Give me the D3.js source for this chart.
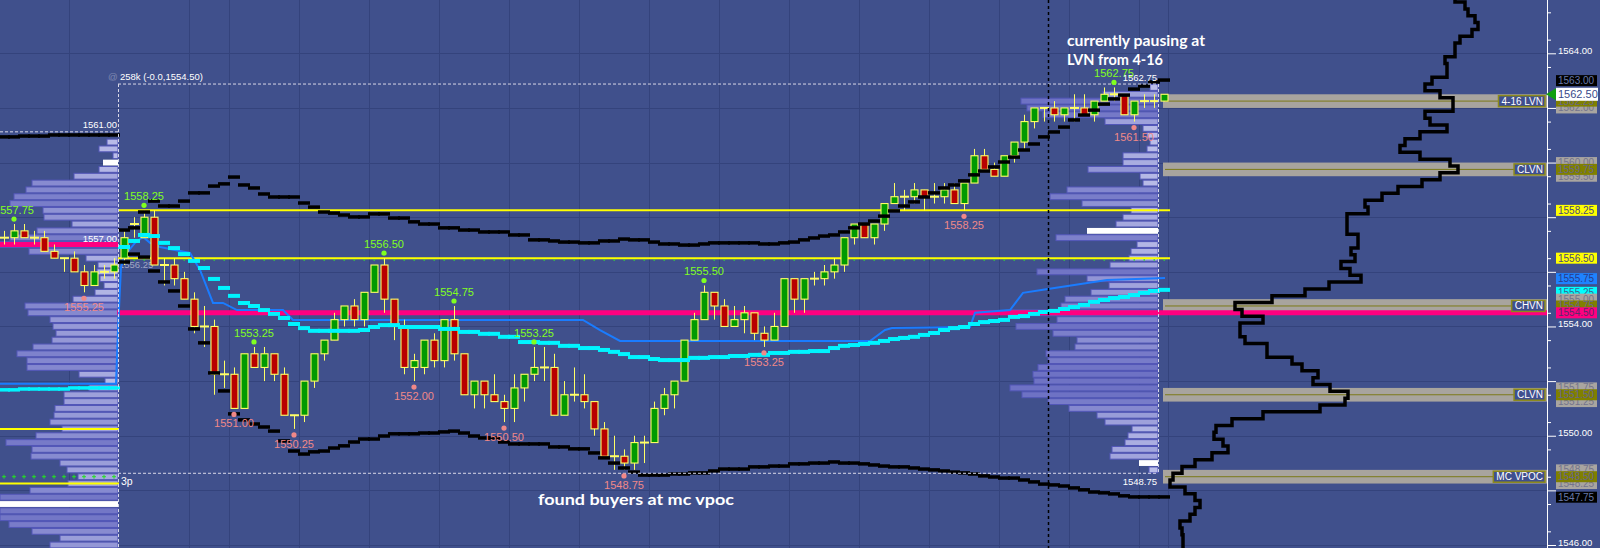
<!DOCTYPE html>
<html><head><meta charset="utf-8">
<script src="https://cdn.jsdelivr.net/npm/d3@7/dist/d3.min.js"></script>
<style>
html,body{margin:0;padding:0;background:#40508c;overflow:hidden}
svg{display:block}
</style></head><body>
<svg id="chart" width="1600" height="548"></svg>
<script>
// ================= DATA =================
const opens=[1557.25,1557.25,1557.5,1557.25,1557.25,1556.75,1556.5,1556.5,1556.0,1555.5,1556.0,1556.0,
1556.5,1557.75,1557.25,1558.0,1556.25,1556.25,1555.75,1555.0,1554.0,1554.0,1552.25,1552.25,
1551.0,1553.0,1552.5,1553.0,1552.25,1550.75,1550.75,1552.0,1553.0,1553.5,1554.25,1554.75,
1554.25,1555.25,1556.25,1555.0,1554.0,1552.5,1552.5,1553.5,1552.75,1554.25,1553.0,1551.5,
1552.0,1551.5,1551.25,1551.0,1551.75,1552.25,1552.5,1552.5,1550.75,1551.5,1551.5,1551.25,
1550.25,1549.25,1549.25,1549.0,1549.75,1549.75,1551.0,1551.5,1552.0,1553.5,1554.25,1555.25,
1554.75,1554.0,1554.25,1554.5,1553.75,1553.5,1554.0,1555.75,1555.0,1555.75,1555.75,1556.0,
1556.25,1557.25,1557.75,1557.25,1557.75,1558.5,1558.75,1558.75,1559.0,1558.75,1558.75,1559.0,
1558.5,1559.25,1560.25,1559.75,1559.5,1560.25,1560.75,1561.5,1562.0,1562.0,1561.75,1562.0,
1562.0,1561.75,1562.25,1562.5,1562.5,1561.75,1562.25,1562.25,1562.25];
const closes=[1557.25,1557.5,1557.25,1557.25,1556.75,1556.5,1556.5,1556.0,1555.5,1556.0,1556.0,1556.25,
1557.25,1557.75,1558.0,1556.25,1556.25,1555.75,1555.0,1554.0,1554.0,1552.25,1552.25,1551.0,
1553.0,1552.5,1553.0,1552.25,1550.75,1550.75,1552.0,1553.0,1553.5,1554.25,1554.75,1554.25,
1555.25,1556.25,1555.0,1554.0,1552.5,1552.75,1553.5,1552.75,1554.25,1553.0,1551.5,1552.0,
1551.5,1551.25,1551.0,1551.75,1552.25,1552.5,1552.5,1550.75,1551.5,1551.5,1551.25,1550.25,
1549.25,1549.25,1549.0,1549.75,1549.75,1551.0,1551.5,1552.0,1553.5,1554.25,1555.25,1554.75,
1554.0,1554.25,1554.5,1553.75,1553.5,1554.0,1555.75,1555.0,1555.75,1555.75,1556.0,1556.25,
1557.25,1557.75,1557.25,1557.75,1558.5,1558.75,1558.75,1559.0,1558.75,1558.75,1559.0,1558.5,
1559.25,1560.25,1559.75,1559.5,1560.25,1560.75,1561.5,1562.0,1562.0,1561.75,1562.0,1562.0,
1561.75,1562.25,1562.5,1562.5,1561.75,1562.25,1562.25,1562.25,1562.5];
const highs=[1557.5,1557.75,1557.75,1557.5,1557.5,1557.0,1556.5,1556.75,1556.25,1556.25,1556.25,1556.5,
1557.5,1558.0,1558.25,1558.25,1556.5,1556.5,1556.0,1555.25,1554.75,1554.25,1552.75,1552.5,
1553.0,1553.25,1553.25,1553.0,1552.5,1550.75,1552.0,1553.0,1553.5,1554.5,1554.75,1555.0,
1555.25,1556.25,1556.5,1555.0,1554.25,1553.0,1553.5,1553.75,1554.25,1554.75,1553.0,1552.0,
1552.0,1552.25,1551.5,1552.25,1552.25,1553.25,1553.25,1553.0,1552.0,1552.5,1552.25,1551.25,
1550.5,1550.0,1549.5,1550.0,1550.0,1551.25,1551.75,1552.0,1553.5,1554.5,1555.5,1555.25,
1555.0,1554.75,1554.75,1554.5,1554.0,1554.5,1555.75,1555.75,1555.75,1556.0,1556.25,1556.5,
1557.25,1557.75,1557.75,1557.75,1558.5,1559.25,1559.0,1559.25,1559.0,1559.25,1559.25,1559.25,
1559.25,1560.5,1560.5,1560.0,1560.25,1560.75,1561.75,1562.0,1562.0,1562.25,1562.0,1562.5,
1562.5,1562.25,1562.75,1562.75,1562.5,1562.25,1562.5,1562.5,1562.5];
const lows=[1557.0,1557.0,1557.25,1557.0,1556.75,1556.5,1556.0,1556.0,1555.25,1555.5,1555.75,1555.75,
1556.25,1557.25,1557.25,1556.25,1555.5,1555.5,1555.0,1553.75,1553.25,1551.5,1551.75,1551.0,
1551.0,1552.5,1552.0,1552.0,1550.75,1550.25,1550.5,1551.75,1552.75,1553.5,1554.0,1554.0,
1554.0,1555.25,1554.5,1553.5,1552.25,1552.0,1552.25,1552.5,1552.5,1552.75,1551.5,1551.0,
1551.0,1551.25,1550.5,1550.5,1551.25,1552.0,1552.0,1550.75,1550.75,1551.25,1551.0,1550.0,
1549.25,1548.75,1548.75,1548.75,1549.0,1549.75,1550.75,1551.0,1552.0,1553.5,1554.25,1554.25,
1554.0,1554.0,1553.75,1553.5,1553.25,1553.5,1554.0,1554.5,1554.5,1555.5,1555.5,1555.75,
1556.0,1557.0,1557.25,1557.0,1557.5,1558.5,1558.25,1558.5,1558.25,1558.5,1558.5,1558.5,
1558.25,1559.25,1559.75,1559.5,1559.5,1560.0,1560.5,1561.25,1561.5,1561.5,1561.5,1561.5,
1561.75,1561.5,1562.25,1562.25,1561.75,1561.5,1562.0,1562.0,1562.25];
const sessionStart=12;
const upperBand=[1557.53,1557.61,1558.19,1558.59,1558.41,1558.41,1558.59,1558.89,1558.89,1559.14,
1559.22,1559.47,1559.18,1559.07,1558.85,1558.74,1558.74,1558.74,1558.52,1558.37,
1558.19,1558.15,1558.08,1558.01,1558.01,1558.12,1558.12,1557.97,1557.97,1557.83,
1557.75,1557.75,1557.61,1557.61,1557.53,1557.53,1557.46,1557.46,1557.46,1557.35,
1557.35,1557.17,1557.17,1557.13,1557.09,1557.09,1557.06,1557.06,1557.13,1557.13,
1557.20,1557.17,1557.17,1557.09,1557.02,1557.02,1556.98,1556.98,1557.02,1557.06,
1557.06,1557.06,1557.06,1557.06,1557.02,1557.02,1557.06,1557.09,1557.17,1557.24,
1557.31,1557.35,1557.46,1557.61,1557.75,1557.86,1558.04,1558.23,1558.41,1558.56,
1558.74,1558.89,1559.07,1559.18,1559.33,1559.55,1559.69,1559.84,1560.02,1560.20,
1560.46,1560.68,1560.94,1561.12,1561.30,1561.56,1561.74,1561.92,1562.14,1562.33,
1562.47,1562.69,1562.80,1562.95,1563.02];
const lowerBand=[1556.36,1556.65,1556.54,1556.03,1555.63,1555.30,1554.75,1553.91,1553.40,1552.30,
1551.64,1550.80,1550.58,1550.43,1550.32,1550.17,1549.81,1549.44,1549.33,1549.41,
1549.44,1549.55,1549.63,1549.77,1549.88,1549.88,1549.99,1550.07,1550.07,1550.07,
1550.10,1550.10,1550.14,1550.17,1550.10,1549.99,1549.92,1549.92,1549.77,1549.70,
1549.70,1549.70,1549.70,1549.59,1549.59,1549.52,1549.52,1549.37,1549.19,1549.00,
1548.82,1548.67,1548.56,1548.56,1548.56,1548.60,1548.60,1548.64,1548.64,1548.71,
1548.78,1548.78,1548.78,1548.86,1548.86,1548.89,1548.89,1548.97,1548.97,1549.00,
1549.00,1549.04,1549.00,1549.00,1548.97,1548.93,1548.89,1548.86,1548.86,1548.82,
1548.78,1548.75,1548.71,1548.67,1548.64,1548.60,1548.53,1548.49,1548.45,1548.45,
1548.38,1548.31,1548.23,1548.20,1548.16,1548.09,1548.02,1547.94,1547.91,1547.87,
1547.80,1547.76,1547.76,1547.76,1547.76];
const cyanLine=[1556.91,1557.13,1557.35,1557.31,1557.06,1556.87,1556.65,1556.40,1556.14,1555.74,
1555.41,1555.12,1554.86,1554.75,1554.60,1554.46,1554.31,1554.09,1553.94,1553.84,
1553.84,1553.84,1553.84,1553.84,1553.87,1553.98,1554.05,1554.05,1553.98,1553.98,
1553.98,1553.98,1553.91,1553.91,1553.80,1553.80,1553.73,1553.73,1553.62,1553.62,
1553.43,1553.43,1553.40,1553.40,1553.29,1553.29,1553.21,1553.21,1553.14,1553.07,
1552.99,1552.88,1552.88,1552.81,1552.77,1552.77,1552.77,1552.85,1552.85,1552.88,
1552.88,1552.92,1552.92,1552.96,1552.96,1553.03,1553.03,1553.07,1553.07,1553.10,
1553.10,1553.21,1553.29,1553.32,1553.36,1553.40,1553.47,1553.54,1553.58,1553.62,
1553.69,1553.76,1553.87,1553.94,1553.98,1554.09,1554.16,1554.20,1554.24,1554.35,
1554.38,1554.46,1554.53,1554.57,1554.64,1554.71,1554.79,1554.90,1554.97,1555.04,
1555.08,1555.15,1555.23,1555.30,1555.34];
const priorUpper=[1560.94,1560.94,1560.97,1560.97,1560.97,1561.01,1561.01,1561.01,1561.01,1561.01,1561.01,1561.01];
const priorCyan=[1551.68,1551.68,1551.71,1551.71,1551.71,1551.71,1551.71,1551.75,1551.75,1551.75,1551.75,1551.75];
const blueIdx=[-0.4,11.2,11.4,11.7,12.1,13.1,13.9,14.6,15.6,18.6,19.6,20.9,21.9,23.3,27.9,28.9,57.9,59.6,61.6,86.6,88.1,88.8,96.6,97.1,100.6,101.9,103.9,110.3,116.1];
const bluePx=[1551.90,1551.90,1553.87,1556.18,1556.62,1557.06,1557.28,1557.06,1556.91,1556.69,1556.07,1554.86,1554.86,1554.60,1554.60,1554.24,1554.24,1553.87,1553.47,1553.47,1553.87,1553.94,1553.98,1554.50,1554.60,1555.23,1555.34,1555.70,1555.77];
const leftProfileTop=1560.75;
const leftProfileVols=[11,19,5,15,19,44,86,92,104,108,75,74,46,81,108,118,89,32,20,21,
18,14,23,45,93,90,68,65,62,66,85,101,91,91,39,13,29,54,54,63,
64,68,56,82,112,86,87,58,51,40,50,88,118,118,118,118,109,86,58,68];
const leftWhiteRows=[1560.0,1547.5];
const rightProfileTop=1562.75;
const rightProfileVols=[8,55,137,131,115,53,15,11,8,11,35,35,70,18,15,91,108,76,27,35,
42,71,102,21,27,29,48,121,71,49,67,93,97,150,101,142,105,81,83,112,
110,120,125,124,148,136,110,89,61,53,26,30,33,46,48,19,9];
const rightWhiteRows=[1557.5,1549.0];
const compTop=1566.0;
const compVols=[308,318,321,328,331,325,313,308,308,298,300,300,285,278,293,306,306,278,283,300,
273,258,253,273,303,311,293,275,251,235,218,221,200,200,200,211,211,204,208,194,
203,214,182,158,125,88,95,116,93,93,98,120,120,145,155,171,166,183,201,198,
173,116,85,69,67,76,81,65,48,35,26,23,38,48,53,48,43,33,35,36,36];
const axisTicks=[1546,1548,1550,1552,1554,1556,1558,1560,1562,1564,1566];
const bandCenters=[1562.25,1559.75,1554.75,1551.50,1548.50];
const bandNames=['4-16 LVN','CLVN','CHVN','CLVN','MC VPOC'];
const yellowLevels=[1558.25,1556.50];
const pocLevel=1554.50;
const priorPoc=1557.00, priorYellow=[1550.25,1548.25], priorGreen=1548.50, priorHigh=1561.00;
const sessionHigh=1562.75, sessionLow=1548.75, lastPrice=1562.50;
const highMarks=[[1,1557.75],[14,1558.25],[25,1553.25],[38,1556.50],[45,1554.75],[53,1553.25],[70,1555.50],[111,1562.75]];
const lowMarks=[[8,1555.25],[23,1551.00],[29,1550.25],[41,1552.00],[50,1550.50],[62,1548.75],[76,1553.25],[96,1558.25],[113,1561.50]];
const gridIdx=[6.5,18.5,22.5,29.5,36.5,43.5,50.5,57.5,64.5,71.5,78.5,85.5,92.5,99.5,106.5,113.5,116.4];
const markerPrices=[1563.00,1562.00,1562.25,1562.50,1560.00,1559.50,1559.75,1558.25,1556.50,1555.75,1555.25,1555.00,1554.75,1554.50,1551.75,1551.25,1551.50,1548.75,1548.25,1548.50,1547.75];
const markerKinds=['black','gray','olive','last','gray','gray','olive','yellow','yellow','blue','cyan','gray','olive','magenta','gray','gray','olive','gray','gray','olive','black'];

// ================= DRAW =================
const W=1600,H=548,axisX=1547;
const svg=d3.select('#chart');
const y=d3.scaleLinear().domain([1546,1564]).range([545.0,53.3]);
const xi=d3.scaleLinear().domain([0,116]).range([4,1164]);
const rowH=y(1546)-y(1546.25);
const vx=d3.scaleLinear().domain([0,150]).range([0,150]);
const volColor=d3.scaleLinear().domain([10,125]).range(['#babde8','#6e72c4']).clamp(true);
const F='"Liberation Sans", Arial, sans-serif';

svg.append('rect').attr('width',W).attr('height',H).attr('fill','#40508c');

const grid=svg.append('g').attr('stroke','#34437c').attr('stroke-width',1);
grid.selectAll('.h').data(axisTicks).join('line')
  .attr('x1',0).attr('x2',axisX).attr('y1',d=>Math.round(y(d))+0.5).attr('y2',d=>Math.round(y(d))+0.5);
grid.selectAll('.v').data(gridIdx).join('line')
  .attr('x1',d=>Math.round(xi(d))+0.5).attr('x2',d=>Math.round(xi(d))+0.5).attr('y1',0).attr('y2',H);

const bands=svg.append('g');
bandCenters.forEach(c=>{
  bands.append('rect').attr('x',1163).attr('width',axisX-1163)
    .attr('y',y(c+0.25)).attr('height',y(c-0.25)-y(c+0.25)).attr('fill','#a8a49e');
  bands.append('line').attr('x1',1165).attr('x2',axisX-2).attr('y1',y(c)).attr('y2',y(c))
    .attr('stroke','#7c7a18').attr('stroke-width',1);
});

function profile(top,vols,whites,rightEdge){
  const gp=svg.append('g');
  vols.forEach((v,k)=>{
    const p=top-0.25*k;
    const w=vx(v);
    const white=whites.includes(p);
    gp.append('rect').attr('x',rightEdge-w).attr('y',y(p)-rowH/2+0.5)
      .attr('width',w).attr('height',rowH-1)
      .attr('fill',white?'#ffffff':volColor(v))
      .attr('stroke',white?'none':'#5357b8').attr('stroke-width',1);
  });
}
profile(leftProfileTop,leftProfileVols,leftWhiteRows,118);
profile(rightProfileTop,rightProfileVols,rightWhiteRows,1158);

svg.append('line').attr('x1',0).attr('x2',118).attr('y1',y(priorPoc)).attr('y2',y(priorPoc))
  .attr('stroke','#ff0080').attr('stroke-width',5);
priorYellow.forEach(p=>svg.append('line').attr('x1',0).attr('x2',119).attr('y1',y(p)).attr('y2',y(p))
  .attr('stroke','#ffff00').attr('stroke-width',2));
const plus=svg.append('g').attr('stroke','#22e022').attr('stroke-width',1);
d3.range(0,sessionStart).forEach(i=>{
  const cx=xi(i), cy=y(priorGreen);
  plus.append('line').attr('x1',cx-2).attr('x2',cx+2).attr('y1',cy).attr('y2',cy);
  plus.append('line').attr('x1',cx).attr('x2',cx).attr('y1',cy-2).attr('y2',cy+2);
});

svg.append('line').attr('x1',117).attr('x2',axisX).attr('y1',y(pocLevel)).attr('y2',y(pocLevel))
  .attr('stroke','#ff0080').attr('stroke-width',5);
yellowLevels.forEach(p=>svg.append('line').attr('x1',118).attr('x2',1170).attr('y1',y(p)).attr('y2',y(p))
  .attr('stroke','#ffff00').attr('stroke-width',2));
const gdots=svg.append('g').attr('fill','#30e030');
d3.range(sessionStart,117).forEach(i=>gdots.append('rect').attr('x',xi(i)-0.5).attr('y',y(yellowLevels[1])+1).attr('width',1.5).attr('height',1.5));

svg.append('text').attr('x',119).attr('y',y(1556.25)+3).text('1556.25')
  .attr('fill','#c8cadc').attr('opacity',0.7).style('font','9.5px '+F);

svg.append('path').datum(blueIdx.map((d,k)=>[d,bluePx[k]]))
  .attr('d',d3.line().x(d=>xi(d[0])).y(d=>y(d[1])))
  .attr('fill','none').attr('stroke','#1a7cff').attr('stroke-width',2);

const cg=svg.append('g');
opens.forEach((o,i)=>{
  const cx=Math.round(xi(i))+0.5, c=closes[i];
  cg.append('line').attr('x1',cx).attr('x2',cx).attr('y1',y(highs[i])).attr('y2',y(lows[i]))
    .attr('stroke','#ffff66').attr('stroke-width',1);
  if(o===c){
    cg.append('line').attr('x1',cx-4.5).attr('x2',cx+4.5).attr('y1',y(o)).attr('y2',y(o))
      .attr('stroke','#ffff66').attr('stroke-width',2);
  } else {
    const top=y(Math.max(o,c)), bot=y(Math.min(o,c));
    cg.append('rect').attr('x',cx-3.5).attr('y',top).attr('width',7).attr('height',bot-top)
      .attr('fill',c>o?'#009a00':'#b80000').attr('stroke','#ffff66').attr('stroke-width',1.1);
  }
});

function dashes(vals,start,color,thick){
  const gd=svg.append('g').attr('stroke',color).attr('stroke-width',thick);
  vals.forEach((v,k)=>{
    const cx=xi(start+k);
    gd.append('line').attr('x1',cx-6).attr('x2',cx+6).attr('y1',y(v)).attr('y2',y(v));
  });
}
dashes(priorCyan,0,'#00f4ff',3.5);
dashes(cyanLine,sessionStart,'#00f4ff',4);
dashes(priorUpper,0,'#000000',3.5);
dashes(upperBand,sessionStart,'#000000',3.5);
dashes(lowerBand,sessionStart,'#000000',3.5);

const dash=svg.append('g').attr('stroke','#d8d8e8').attr('stroke-width',1).attr('stroke-dasharray','3,2');
const yHi=y(sessionHigh)-rowH/2, yLo=y(sessionLow)+rowH/2;
dash.append('line').attr('x1',118).attr('x2',1158).attr('y1',yHi).attr('y2',yHi);
dash.append('line').attr('x1',118).attr('x2',1158).attr('y1',yLo).attr('y2',yLo);
dash.append('line').attr('x1',118.5).attr('x2',118.5).attr('y1',yHi).attr('y2',H);
dash.append('line').attr('x1',1158.5).attr('x2',1158.5).attr('y1',yHi).attr('y2',yLo);
const yPH=y(priorHigh)-rowH/2;
dash.append('line').attr('x1',0).attr('x2',118).attr('y1',yPH).attr('y2',yPH);
svg.append('line').attr('x1',1048.5).attr('x2',1048.5).attr('y1',0).attr('y2',H)
  .attr('stroke','#000').attr('stroke-width',1.5).attr('stroke-dasharray','3,3');

const compPts=[];
compVols.forEach((v,k)=>{const p=compTop-0.25*k; const x=1147+vx(v);
  compPts.push([x,y(p)-rowH/2],[x,y(p)+rowH/2]);});
svg.append('path').datum(compPts).attr('d',d3.line())
  .attr('fill','none').attr('stroke','#000').attr('stroke-width',3.5).attr('stroke-linejoin','miter');

const hl=svg.append('g').style('font','11px '+F).attr('text-anchor','middle');
highMarks.forEach(([i,p])=>{
  hl.append('circle').attr('cx',xi(i)).attr('cy',y(p)-5).attr('r',2.6).attr('fill','#80ff20');
  hl.append('text').attr('x',xi(i)).attr('y',y(p)-10).text(p.toFixed(2)).attr('fill','#80ff20');
});
lowMarks.forEach(([i,p])=>{
  hl.append('circle').attr('cx',xi(i)).attr('cy',y(p)+6).attr('r',2.6).attr('fill','#f08888');
  hl.append('text').attr('x',xi(i)).attr('y',y(p)+19).text(p.toFixed(2)).attr('fill','#f08888');
});

const sl=svg.append('g').style('font','9.5px '+F).attr('fill','#ffffff');
sl.append('text').attr('x',108).attr('y',yHi-4).text('@').attr('opacity',0.3);
sl.append('text').attr('x',120).attr('y',yHi-4).text('258k (-0.0,1554.50)');
sl.append('text').attr('x',117).attr('y',yPH-4).attr('text-anchor','end').text(priorHigh.toFixed(2));
sl.append('text').attr('x',117).attr('y',y(priorPoc)-3).attr('text-anchor','end').text(priorPoc.toFixed(2));
sl.append('text').attr('x',1157).attr('y',yHi-3).attr('text-anchor','end').text(sessionHigh.toFixed(2));
sl.append('text').attr('x',1157).attr('y',yLo+12).attr('text-anchor','end').text(sessionLow.toFixed(2));
sl.append('text').attr('x',121).attr('y',yLo+12).text('3p').style('font-size','10.5px');

bandCenters.forEach((c,k)=>{
  const gb=svg.append('g');
  const r=gb.append('rect');
  const t=gb.append('text').attr('x',axisX-4).attr('y',y(c)+3.5).attr('text-anchor','end')
    .text(bandNames[k]).attr('fill','#ffffff').style('font','10px '+F);
  const w=t.node().getComputedTextLength();
  r.attr('x',axisX-4-w-3).attr('y',y(c)-5.5).attr('width',w+5).attr('height',11)
    .attr('fill','#3f4f8e').attr('stroke','#8c8a1c').attr('stroke-width',1.5);
});

// axis: labels only where no price marker covers them
svg.append('line').attr('x1',axisX+0.5).attr('x2',axisX+0.5).attr('y1',0).attr('y2',H).attr('stroke','#fff');
const covered=d=>(y(d)<4)||markerPrices.some(p=>Math.abs(y(p)-y(d))<8);
const ax=svg.append('g').attr('transform',`translate(${axisX},0)`)
  .call(d3.axisRight(y).tickValues(axisTicks).tickSize(9).tickPadding(2)
    .tickFormat(d=>covered(d)?'':d3.format('.2f')(d)));
const axm=svg.append('g').attr('transform',`translate(${axisX},0)`)
  .call(d3.axisRight(y).tickValues(d3.range(1545.5,1566.5,1)).tickSize(4).tickFormat(''));
[ax,axm].forEach(a=>{a.select('.domain').remove();a.selectAll('line').attr('stroke','#fff');});
ax.selectAll('text').attr('fill','#fff').style('font','9.5px '+F).attr('dy','0.02em');

const kindStyle={black:['#000000','#6878a8'],gray:['#a9a5a0','#74748c'],olive:['#808000','#66668a'],
 yellow:['#ffff00','#4a4a7a'],blue:['#1e82ff','#2a3c8a'],cyan:['#00ffff','#3c6490'],
 magenta:['#ff0080','#5a2a6a'],last:['#ffffff','#3a4a8a']};
markerPrices.forEach((p,k)=>{
  const [fill,tc]=kindStyle[markerKinds[k]];
  const big=markerKinds[k]==='last';
  const h=big?13:11;
  svg.append('rect').attr('x',1556).attr('y',y(p)-h/2).attr('width',big?42:41).attr('height',h).attr('fill',fill);
  svg.append('text').attr('x',1558).attr('y',y(p)+(big?4:3.5)).text(p.toFixed(2))
    .attr('fill',tc).style('font',(big?'11px ':'10px ')+F);
  if(big){
    svg.append('path').attr('d',`M${axisX-1},${y(p)} L${1556},${y(p)-6} L${1556},${y(p)+6} Z`).attr('fill','#10a010');
  }
});

const an=svg.append('g').attr('fill','#ffffff').style('font','bold 15px Lato, "Open Sans", sans-serif');
an.append('text').attr('x',1067).attr('y',46).text('currently pausing at').attr('textLength',138).attr('lengthAdjust','spacingAndGlyphs');
an.append('text').attr('x',1067).attr('y',65).text('LVN from 4-16').attr('textLength',96).attr('lengthAdjust','spacingAndGlyphs');
an.append('text').attr('x',538).attr('y',505).text('found buyers at mc vpoc').attr('textLength',196).attr('lengthAdjust','spacingAndGlyphs');
</script>
</body></html>
